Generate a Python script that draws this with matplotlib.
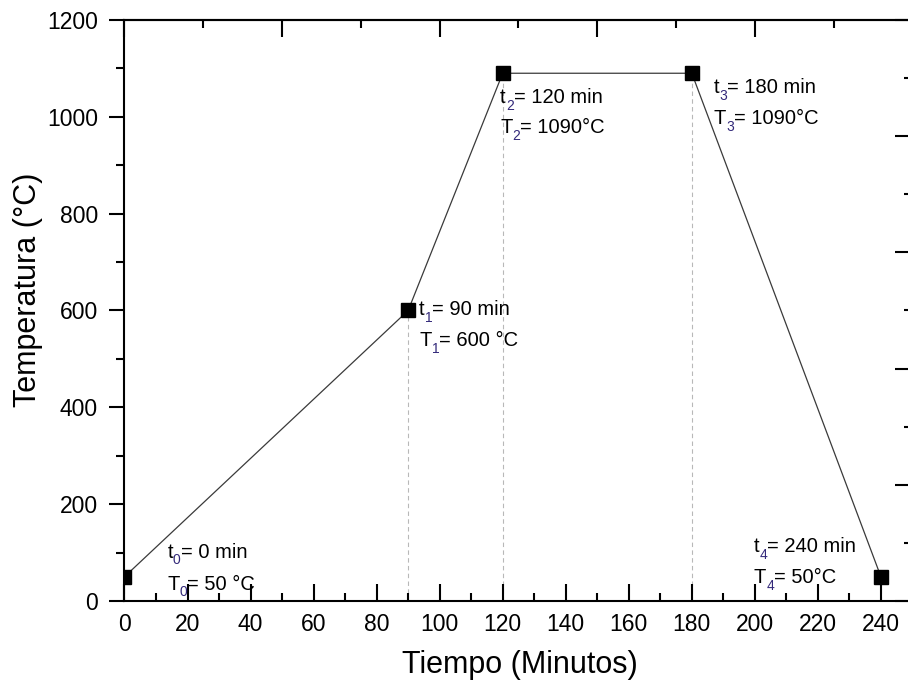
import matplotlib
matplotlib.use("Agg")
import matplotlib.pyplot as plt
from matplotlib.ticker import MultipleLocator

plt.rcParams['font.family'] = ['Liberation Sans', 'DejaVu Sans']

# Data
tiempo = [0, 90, 120, 180, 240]
temperatura = [50, 600, 1090, 1090, 50]

# Annotation labels: (x, y, letter, subscript, rest)
lbl_x = [13.6, 93.5, 119.2, 187.0, 199.7]
lbl_t_y = [89, 590, 1028, 1049, 101]
lbl_T_y = [23, 526, 966, 985, 37]
lbl_sub = ['0', '1', '2', '3', '4']
lbl_t_rest = ['= 0 min', '= 90 min', '= 120 min', '= 180 min', '= 240 min']
lbl_T_rest = ['= 50 °C', '= 600 °C', '= 1090°C', '= 1090°C', '= 50°C']

fig = plt.figure(figsize=(9.08, 6.87), dpi=100)
ax = fig.add_axes([0.1371, 0.1252, 0.8678, 0.8457])

# drop lines
for x, y in zip(tiempo, temperatura):
    ax.plot([x, x], [0, y], ls=(0, (4, 3)), color='#b8b8b8', lw=0.8, zorder=1)

ax.plot(tiempo, temperatura, color='#3a3a3a', lw=0.9, marker='s', markersize=9.5,
        markerfacecolor='black', markeredgecolor='black', zorder=3)

ax.set_xlim(0, 250)
ax.set_ylim(0, 1200)

ax.xaxis.set_major_locator(MultipleLocator(20))
ax.xaxis.set_minor_locator(MultipleLocator(10))
ax.yaxis.set_major_locator(MultipleLocator(200))
ax.yaxis.set_minor_locator(MultipleLocator(100))
ax.set_xticks(list(range(0, 241, 20)))

ax.tick_params(axis='x', which='major', direction='in', length=12, width=1.5,
               labelsize=16.5, pad=9, top=False)
ax.tick_params(axis='x', which='minor', direction='in', length=6, width=1.5, top=False)
ax.tick_params(axis='y', which='major', direction='out', length=11, width=1.5,
               labelsize=16.5, pad=8, right=False)
ax.tick_params(axis='y', which='minor', direction='out', length=6, width=1.5, right=False)

for s in ax.spines.values():
    s.set_linewidth(1.5)

secx = ax.secondary_xaxis('top')
secx.xaxis.set_major_locator(MultipleLocator(50))
secx.xaxis.set_minor_locator(MultipleLocator(25))
secx.tick_params(which='major', direction='in', length=12, width=1.5, labeltop=False)
secx.tick_params(which='minor', direction='in', length=6, width=1.5)
secx.spines['top'].set_linewidth(1.5)

secy = ax.secondary_yaxis('right')
secy.yaxis.set_major_locator(MultipleLocator(240))
secy.yaxis.set_minor_locator(MultipleLocator(120))
secy.tick_params(which='major', direction='in', length=12, width=1.5, labelright=False)
secy.tick_params(which='minor', direction='in', length=6, width=1.5)
secy.spines['right'].set_linewidth(1.5)

ax.set_xlabel('Tiempo (Minutos)', fontsize=22)
ax.set_ylabel('Temperatura (°C)', fontsize=22)
ax.xaxis.set_label_coords(0.502, -0.085)
ax.yaxis.set_label_coords(-0.103, 0.535)

sub_color = '#33297a'
FS = 14.5
SFS = 10


def label(x, y, letter, sub, rest):
    t = ax.text(x, y, letter, fontsize=FS, va='baseline', ha='left', zorder=4)
    s = ax.annotate(sub, xy=(1, 0), xycoords=t, xytext=(0, -4),
                    textcoords='offset points', fontsize=SFS, color=sub_color,
                    va='bottom', ha='left', zorder=4)
    ax.annotate(rest, xy=(1, 0), xycoords=(s, t), fontsize=FS,
                va='bottom', ha='left', zorder=4)


for i in range(len(lbl_x)):
    label(lbl_x[i], lbl_t_y[i], 't', lbl_sub[i], lbl_t_rest[i])
    label(lbl_x[i], lbl_T_y[i], 'T', lbl_sub[i], lbl_T_rest[i])

fig.savefig('out.png', dpi=100)
